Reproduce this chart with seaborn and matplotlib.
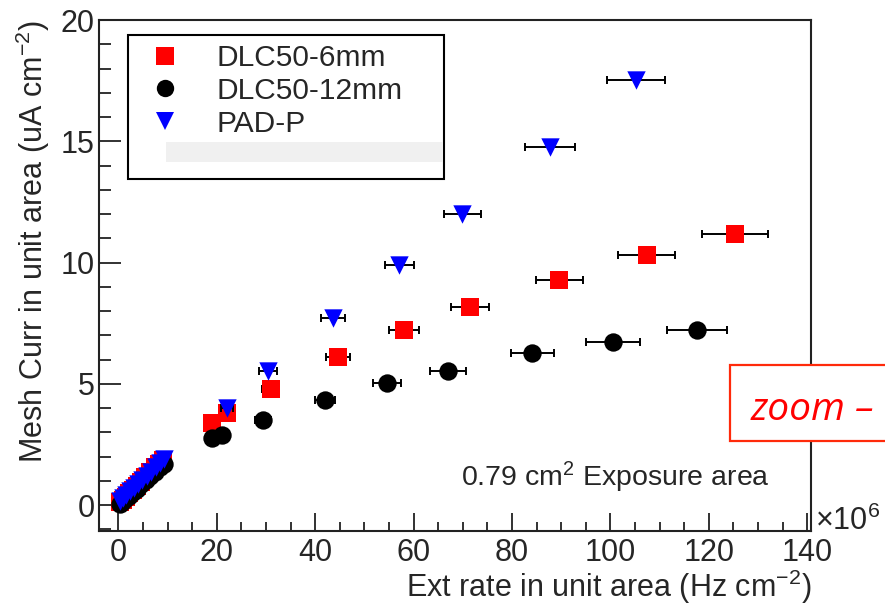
import numpy as np
import pandas as pd
import matplotlib
matplotlib.use("Agg")
import matplotlib.pyplot as plt
from matplotlib.lines import Line2D
from matplotlib.patches import Rectangle
import seaborn as sns

# ---------------- data ----------------
series_names = ["DLC50-6mm", "DLC50-12mm", "PAD-P"]

red_x = [0.4, 0.9, 1.5, 2.2, 2.9, 3.8, 4.6, 5.5, 6.5, 7.4, 8.3, 9.1,
         19.0, 22.1, 31.0, 44.7, 58.1, 71.5, 89.6, 107.4, 125.4]
red_y = [0.12, 0.22, 0.35, 0.50, 0.62, 0.80, 0.97, 1.15, 1.38, 1.55, 1.70, 1.85,
         3.37, 3.79, 4.77, 6.09, 7.20, 8.15, 9.30, 10.29, 11.19]
red_xerr = [0.02, 0.05, 0.08, 0.12, 0.15, 0.2, 0.25, 0.3, 0.35, 0.4, 0.45, 0.5,
            1.0, 1.2, 1.7, 2.4, 3.0, 3.9, 4.8, 5.8, 6.7]

black_x = [0.3, 0.8, 1.4, 2.1, 2.9, 3.7, 4.6, 5.6, 6.5, 7.5, 8.4, 9.2,
           19.1, 21.1, 29.4, 42.0, 54.6, 67.0, 84.1, 100.5, 117.6]
black_y = [0.05, 0.12, 0.25, 0.38, 0.52, 0.68, 0.85, 1.02, 1.20, 1.38, 1.55, 1.70,
           2.76, 2.88, 3.50, 4.32, 5.02, 5.51, 6.26, 6.71, 7.20]
black_xerr = [0.02, 0.04, 0.07, 0.11, 0.15, 0.2, 0.25, 0.3, 0.35, 0.4, 0.45, 0.5,
              1.0, 1.1, 1.6, 2.1, 2.9, 3.7, 4.4, 5.5, 6.1]

blue_x = [0.4, 1.0, 1.6, 2.3, 3.1, 4.0, 4.9, 5.8, 6.7, 7.6, 8.5, 9.3,
          22.1, 30.4, 43.6, 57.1, 69.9, 87.7, 105.2]
blue_y = [0.18, 0.30, 0.42, 0.56, 0.70, 0.86, 1.04, 1.20, 1.38, 1.55, 1.72, 1.88,
          3.99, 5.51, 7.70, 9.88, 12.02, 14.77, 17.53]
blue_xerr = [0.02, 0.05, 0.08, 0.12, 0.16, 0.2, 0.25, 0.3, 0.35, 0.4, 0.45, 0.5,
             1.2, 1.8, 2.5, 2.9, 3.7, 5.0, 5.9]

x_ticks = [0, 20, 40, 60, 80, 100, 120, 140]
y_ticks = [0, 5, 10, 15, 20]

# ---------------- build tidy frame ----------------
frames = []
for name, xs, ys, es in [(series_names[0], red_x, red_y, red_xerr),
                         (series_names[1], black_x, black_y, black_xerr),
                         (series_names[2], blue_x, blue_y, blue_xerr)]:
    frames.append(pd.DataFrame({"rate": xs, "curr": ys, "xerr": es, "series": name}))
df = pd.concat(frames, ignore_index=True)

colors = {series_names[0]: "#ff0000", series_names[1]: "#000000", series_names[2]: "#0000ff"}
markers = {series_names[0]: "s", series_names[1]: "o", series_names[2]: "v"}
sizes = {series_names[0]: 150, series_names[1]: 175, series_names[2]: 175}

sns.set_style("ticks")
plt.rcParams["font.family"] = ["Liberation Sans", "DejaVu Sans"]
plt.rcParams["mathtext.fontset"] = "custom"
plt.rcParams["mathtext.rm"] = "Liberation Sans"
plt.rcParams["mathtext.it"] = "Liberation Sans:italic"

W, H = 885, 605
fig = plt.figure(figsize=(W / 100, H / 100), dpi=100)
ax = fig.add_axes([99 / W, 1 - 531 / H, (811 - 99) / W, (531 - 20) / H])

for i, name in enumerate(series_names):
    sub = df[df.series == name]
    ax.errorbar(sub.rate, sub.curr, xerr=sub.xerr, fmt="none", ecolor="black",
                elinewidth=1.4, capsize=3, capthick=1.4, zorder=2 + 2 * i)
    sns.scatterplot(data=sub, x="rate", y="curr", marker=markers[name],
                    color=colors[name], s=sizes[name], linewidth=0, ax=ax,
                    legend=False, zorder=3 + 2 * i)

ax.set_xlim(-3.92, 140.75)
ax.set_ylim(-1.07, 19.96)
ax.set_xticks(x_ticks)
ax.set_yticks(y_ticks)
ax.set_xticks(np.arange(0, 141, 5), minor=True)
ax.set_yticks(np.arange(-1, 20, 1), minor=True)
ax.tick_params(axis="both", which="both", direction="in", labelsize=22,
               width=1.3, color="#222222", top=False, right=False)
ax.tick_params(axis="x", which="major", length=13, pad=5)
ax.tick_params(axis="x", which="minor", length=6.5)
ax.tick_params(axis="y", which="major", length=16, pad=3)
ax.tick_params(axis="y", which="minor", length=8.5)
for s in ax.spines.values():
    s.set_linewidth(1.5)
    s.set_color("#222222")

ax.set_xlabel("Ext rate in unit area (Hz cm$^{-2}$)", fontsize=22, loc="right", labelpad=0)
ax.set_ylabel("Mesh Curr in unit area (uA cm$^{-2}$)", fontsize=22, loc="top", labelpad=6)

# multiplier
fig.text(815 / W, 1 - 530 / H, r"$\times$10$^{6}$", fontsize=22, ha="left", va="baseline")

# annotation
fig.text(770 / W, 1 - 486 / H, "0.79 cm$^{2}$ Exposure area", fontsize=20.5,
         ha="right", va="baseline")

# legend
handles = [Line2D([], [], linestyle="none", marker=markers[n], color=colors[n],
                  markersize=12.5, markeredgewidth=0) for n in series_names]
handles.append(Line2D([], [], linestyle="none"))
labels = series_names + [" "]
leg = ax.legend(handles, labels, loc="upper left",
                bbox_to_anchor=(128 / W, 1 - 173 / H, 316 / W, 138 / H),
                bbox_transform=fig.transFigure, mode="expand", borderaxespad=0,
                fontsize=21.5, frameon=True, fancybox=False, framealpha=1,
                edgecolor="black", handlelength=1.9, handletextpad=0.75,
                labelspacing=0.16, borderpad=0.3)
leg.get_frame().set_linewidth(1.5)
leg.set_zorder(20)

fig.patches.append(Rectangle((166 / W, 1 - 162 / H), (443 - 166) / W, 20 / H,
                             transform=fig.transFigure, facecolor="#f0f0f0",
                             edgecolor="none", zorder=30))

# zoom box overlay
fig.patches.append(Rectangle((730 / W, 1 - 441 / H), 200 / W, 76 / H,
                             transform=fig.transFigure, facecolor="white",
                             edgecolor="#ff2a0a", linewidth=1.6, zorder=30))
fig.text(751 / W, 1 - 420 / H, "zoom \u2013", fontsize=28, color="#ff0000",
         style="italic", family=["Open Sans", "DejaVu Sans"], ha="left",
         va="baseline", zorder=31)

fig.savefig("out.png", dpi=100)
